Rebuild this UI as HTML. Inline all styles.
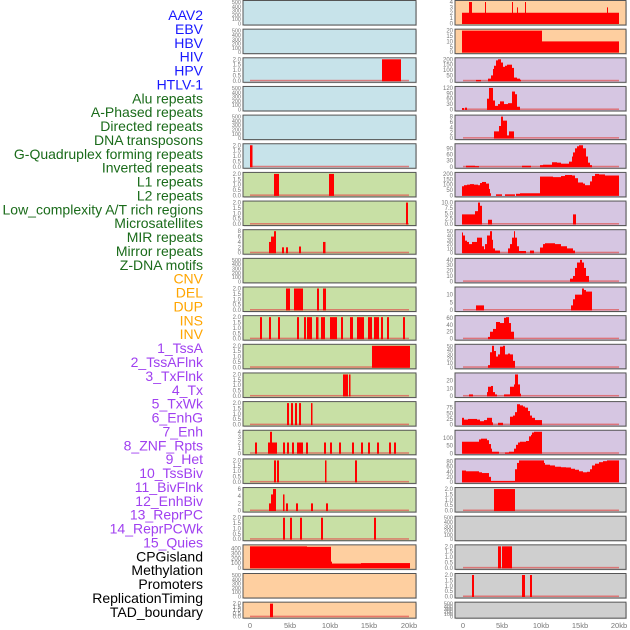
<!DOCTYPE html>
<html><head><meta charset="utf-8"><style>
html,body{margin:0;padding:0;background:#fff;width:630px;height:630px;overflow:hidden}
svg{display:block}
</style></head><body>
<svg id="s" width="630" height="630" xmlns="http://www.w3.org/2000/svg" font-family="Liberation Sans, sans-serif"></svg>
<script>
const S=document.getElementById('s');let out='';
const labels=[["AAV2","#1818ff"],["EBV","#1818ff"],["HBV","#1818ff"],["HIV","#1818ff"],["HPV","#1818ff"],["HTLV-1","#1818ff"],
["Alu repeats","#1a6b1a"],["A-Phased repeats","#1a6b1a"],["Directed repeats","#1a6b1a"],["DNA transposons","#1a6b1a"],["G-Quadruplex forming repeats","#1a6b1a"],["Inverted repeats","#1a6b1a"],["L1 repeats","#1a6b1a"],["L2 repeats","#1a6b1a"],["Low_complexity A/T rich regions","#1a6b1a"],["Microsatellites","#1a6b1a"],["MIR repeats","#1a6b1a"],["Mirror repeats","#1a6b1a"],["Z-DNA motifs","#1a6b1a"],
["CNV","#ffa500"],["DEL","#ffa500"],["DUP","#ffa500"],["INS","#ffa500"],["INV","#ffa500"],
["1_TssA","#a040f0"],["2_TssAFlnk","#a040f0"],["3_TxFlnk","#a040f0"],["4_Tx","#a040f0"],["5_TxWk","#a040f0"],["6_EnhG","#a040f0"],["7_Enh","#a040f0"],["8_ZNF_Rpts","#a040f0"],["9_Het","#a040f0"],["10_TssBiv","#a040f0"],["11_BivFlnk","#a040f0"],["12_EnhBiv","#a040f0"],["13_ReprPC","#a040f0"],["14_ReprPCWk","#a040f0"],["15_Quies","#a040f0"],
["CPGisland","#000"],["Methylation","#000"],["Promoters","#000"],["ReplicationTiming","#000"],["TAD_boundary","#000"]];
labels.forEach((l,i)=>{const y=15+i*13.88+5;out+=`<text x="203" y="${y}" font-size="14" text-anchor="end" fill="${l[1]}">${l[0].replace('&','&amp;')}</text>`;});
const C={b:"#c7e3ea",g:"#c8e0a5",o:"#fecfa0",p:"#d6c6e2",k:"#cfcfcf"};
const T500=[[0,500],["0","100","200","300","400","500"]];
const T2=[[0,2],["0.0","0.5","1.0","1.5","2.0"]];
function narrow(xs,h){return xs.map(x=>Array.isArray(x)?[x[0],x[1],h]:[x,x+2,h]);}
const L=[
 ["b",T500,[]],["b",T500,[]],["b",T2,[[382,401,2]],1],["b",T500,[]],["b",T500,[]],
 ["b",T2,[[250,252.5,2]],1],
 ["g",T2,[[274,279,2],[329,334,2]],1],
 ["g",T2,[[406,408,2]],1],
 ["g",[[0,8],["0","2","4","6","8"]],[[269,271,4],[271,274,6],[274,276,8],[282,284,2],[286,288,2],[299,301,2.3],[323,325.5,4]],1],
 ["g",T500,[]],
 ["g",T2,[[286,290,2],[294,303,2],[317,319,2],[323,326,2]],1],
 ["g",T2,narrow([260,269,278,297,304,[307,312],[316,318.5],[321,325],[330,337],341,[350,353],[357,364],[368,372],[374,379],381,387,[403,405]],2),1],
 ["g",T2,[[372,410,2]],1],
 ["g",T2,[[343,348,2],[349,350.5,2]],1],
 ["g",T2,narrow([287,291,295,299,[311,312.5]],2),1],
 ["g",[[0,4],["0","1","2","3","4"]],narrow([255,[268,270],283,287,292,297,[299,303],306,324,330,339,352,361,368,377,389,394],2).concat([[270,272,4],[272,277,2]]),1],
 ["g",T2,[[274,276,2],[277,279,2],[325,326.5,2],[355,357,2]],1],
 ["g",[[0,6],["0","2","4","6"]],[[269,271,2],[271,273,4.5],[273,276,6],[283,284.5,4.5],[286,288,2],[296,298,2],[311,313,2],[326,328,2]],1],
 ["g",T2,narrow([283,290,300,321,374],2),1],
 ["o",[[0,450],["0","100","200","300","400"]],[[250,307,450],[307,331,440],[331,332,130],[332,361,90],[361,410,100]]],
 ["o",T500,[]],
 ["o",T2,[[270,273,2]],1]
];
const R=[
 ["o",[[0,4],["0","1","2","3","4"]],[[462,619,2],[469,472,4],[485,486,4],[512,513,4],[517,518,3],[525,526,4],[607,608,3]]],
 ["o",[[0,20],["0","5","10","15","20"]],[[462,542,20],[542,619,10]]],
 ["p",[[0,200],["0","50","100","150","200"]],[[476,481,8],[488,491,20],[491,493,50],[493,494,110],[494,496,140],[496,498,190],[498,501,200],[501,503,170],[503,505,130],[505,507,140],[507,512,150],[512,514,120],[514,517,30],[517,520,20],[520,521,10]],1],
 ["p",[[0,120],["0","30","60","90","120"]],[[462,464,8],[465,467,10],[487,489,60],[489,493,120],[493,495,50],[495,498,20],[498,500,30],[500,504,45],[504,508,30],[508,512,35],[512,515,100],[515,517,85],[517,520,15]],1],
 ["p",[[0,8],["0","2","4","6","8"]],[[494,499,2.5],[499,501,4.5],[501,503,8],[503,507,6.5],[507,509,1],[509,514,2.5]],1],
 ["p",[[0,105],["0","30","60","90"]],[[466,475,5],[475,479,3],[522,531,5],[540,543,8],[543,552,10],[552,557,22],[557,561,20],[561,569,15],[569,572,25],[572,573,50],[573,575,70],[575,577,90],[577,579,100],[579,583,105],[583,586,90],[586,588,50],[588,590,20],[590,592,8]],1],
 ["p",[[0,200],["0","50","100","150","200"]],[[462,464,85],[464,467,95],[467,470,100],[470,474,105],[474,478,100],[478,480,95],[480,482,115],[482,486,125],[486,489,110],[489,490,60],[490,491,20],[496,502,10],[505,515,10],[516,520,15],[520,540,20],[540,553,175],[553,561,170],[561,565,180],[565,572,190],[572,575,185],[575,578,160],[578,583,120],[583,585,110],[585,590,95],[590,592,130],[592,595,180],[595,599,200],[599,605,195],[605,619,185]]],
 ["p",[[0,10],["0.0","2.5","5.0","7.5","10.0"]],[[462,475,4.5],[475,478,6],[478,480,10],[480,482,8.5],[488,492,2],[573,576,4.5]],1],
 ["p",[[0,50],["0","10","20","30","40","50"]],[[462,463,47],[463,465,40],[465,467,28],[467,469,25],[469,472,20],[472,477,25],[477,482,35],[482,484,15],[484,485,8],[485,487,20],[487,490,40],[490,492,50],[492,493,30],[493,495,10],[495,500,5],[508,510,10],[510,512,20],[512,514,35],[514,515,50],[515,517,35],[517,519,15],[519,526,4],[530,534,5],[540,543,12],[543,545,20],[545,555,22],[555,561,20],[561,567,15],[567,573,10],[573,575,5]],1],
 ["p",[[0,40],["0","10","20","30","40"]],[[570,573,5],[573,575,10],[575,577,25],[577,580,35],[580,582,40],[582,584,35],[584,586,25],[586,589,10]],1],
 ["p",[[0,14],["0","5","10"]],[[476,484,3],[571,573,3],[573,575,7],[575,578,10],[578,582,10],[582,584,14],[584,586,13],[586,592,12]],1],
 ["p",[[0,62],["0","20","40","60"]],[[488,490,5],[490,493,20],[493,496,28],[496,500,48],[500,504,45],[504,506,60],[506,509,62],[509,511,45],[511,514,20]],1],
 ["p",[[0,50],["0","10","20","30","40","50"]],[[488,490,5],[490,492,35],[492,494,50],[494,496,38],[496,498,25],[498,500,30],[500,503,48],[503,505,50],[505,508,30],[508,510,32],[510,513,30],[513,515,15]],1],
 ["p",[[0,28],["0","10","20"]],[[469,473,2],[487,488,5],[488,491,12],[491,493,13],[493,495,5],[495,497,2],[504,510,2],[510,514,12],[514,515,15],[515,518,28],[518,520,15],[520,521,3]],1],
 ["p",[[0,95],["0","25","50","75"]],[[462,464,30],[464,468,22],[468,477,25],[477,480,22],[480,484,15],[484,487,20],[487,492,30],[492,493,10],[498,503,8],[510,513,35],[513,515,40],[515,517,55],[517,520,90],[520,523,85],[523,525,80],[525,528,75],[528,530,60],[530,532,40],[532,535,30],[535,542,20]],1],
 ["p",[[0,140],["0","50","100"]],[[462,479,75],[479,481,90],[481,487,95],[487,489,85],[489,491,60],[491,492,30],[492,499,10],[505,509,5],[509,514,10],[514,516,30],[516,518,55],[518,520,70],[520,526,75],[526,529,80],[529,531,110],[531,532,120],[532,534,135],[534,542,140]],1],
 ["p",[[0,85],["0","20","40","60","80"]],[[462,466,45],[466,479,42],[479,482,38],[482,489,35],[489,491,20],[491,515,4],[515,517,50],[517,519,75],[519,544,85],[544,545,75],[545,550,68],[550,555,65],[555,561,60],[561,566,58],[566,571,57],[571,575,52],[575,579,48],[579,583,42],[583,587,38],[587,590,40],[590,592,50],[592,595,65],[595,599,72],[599,603,78],[603,607,82],[607,619,85]]],
 ["k",T2,[[494,515,2]],1],
 ["k",T500,[]],
 ["k",T2,[[498,501,2],[502,512,2]],1],
 ["k",T2,[[472,474,2],[522,525,2],[530,532,2]],1],
 ["k",T500,[]]
];
function panel(p,i,x0,x1,dl,dr){
 const top=i*28.65+0.5, h=(i==21?16:24.5), bot=top+h;
 out+=`<rect x="${x0+1}" y="${top+1}" width="${x1-x0}" height="${h}" fill="#bbb" opacity="0.5"/>`;
 out+=`<rect x="${x0}" y="${top}" width="${x1-x0}" height="${h}" fill="${C[p[0]]}" stroke="#555" stroke-width="1"/>`;
 const y0=bot-1.5, sc=(h-3)/p[1][0][1];
 if(p[3]) out+=`<rect x="${dl}" y="${y0-1}" width="${dr-dl}" height="1.5" fill="#e05050" opacity="0.7"/>`;
 p[2].forEach(b=>{const hh=Math.min(b[2]*sc,h-1.5);out+=`<rect x="${b[0]}" y="${y0-hh}" width="${b[1]-b[0]}" height="${hh+0.5}" fill="#ff0000"/>`;});
 const ts=p[1][1], n=ts.length;
 ts.forEach(t=>{const v=parseFloat(t);const y=y0-v*sc;out+=`<text x="${x0-2}" y="${y+2}" font-size="${n>5?5.5:6}" text-anchor="end" fill="#777">${t}</text>`;});
}
L.forEach((p,i)=>panel(p,i,243,416,250,409));
R.forEach((p,i)=>panel(p,i,455,626,463,619));
[[250,"0"],[290,"5kb"],[330,"10kb"],[369,"15kb"],[409,"20kb"]].forEach(a=>out+=`<text x="${a[0]}" y="628" font-size="7.5" text-anchor="middle" fill="#777">${a[1]}</text>`);
[[463,"0"],[502,"5kb"],[541,"10kb"],[580,"15kb"],[619,"20kb"]].forEach(a=>out+=`<text x="${a[0]}" y="628" font-size="7.5" text-anchor="middle" fill="#777">${a[1]}</text>`);
S.innerHTML=out;
</script>
</body></html>
